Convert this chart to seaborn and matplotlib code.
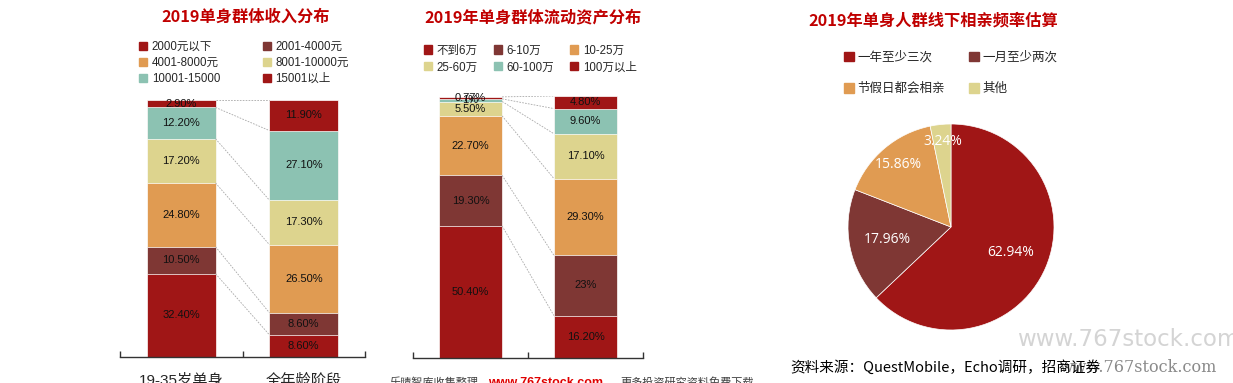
import numpy as np
import pandas as pd
import matplotlib
matplotlib.use('Agg')
import matplotlib.pyplot as plt
import seaborn as sns
from matplotlib.patches import Patch
from matplotlib.ticker import FixedLocator

sns.set_theme(style='white')
plt.rcParams['font.family'] = ['Liberation Sans', 'Noto Sans CJK SC', 'DejaVu Sans']

# income distribution
income_groups = ['19-35岁单身', '全年龄阶段']
income_bins = ['2000元以下', '2001-4000元', '4001-8000元', '8001-10000元', '10001-15000', '15001以上']
income_single = [32.4, 10.5, 24.8, 17.2, 12.2, 2.9]
income_all = [8.6, 8.6, 26.5, 17.3, 27.1, 11.9]

# liquid assets distribution
asset_groups = ['19-35岁单身', '全年龄阶段']
asset_bins = ['不到6万', '6-10万', '10-25万', '25-60万', '60-100万', '100万以上']
asset_single = [50.4, 19.3, 22.7, 5.5, 1, 0.77]
asset_all = [16.2, 23, 29.3, 17.1, 9.6, 4.8]

# blind date frequency
date_labels = ['一年至少三次', '一月至少两次', '节假日都会相亲', '其他']
date_share = [62.94, 17.96, 15.86, 3.24]

seg_colors = ['#A01616', '#7F3734', '#E09B52', '#DDD48E', '#8CC2B2', '#A01616']
pie_colors = ['#A01616', '#7F3734', '#E09B52', '#DDD48E']
title_color = '#C00000'
cjk = ['Noto Sans CJK SC', 'DejaVu Sans']

W, H = 1233, 383
fig = plt.figure(figsize=(W / 100, H / 100), dpi=100)


def fx(px):
    return px / W


def fy(py):
    return 1 - py / H


def pct(v):
    if v == int(v):
        return '%d%%' % v
    return '%.2f%%' % v


def stacked(ax, groups, a, b, width):
    df = pd.DataFrame({'group': np.repeat(groups, len(a)),
                       'seg': list(range(len(a))) * 2,
                       'val': a + b})
    df['cum'] = df.groupby('group')['val'].cumsum()
    # draw the cumulative totals from the top down so each layer covers the next
    for k in reversed(range(len(a))):
        sub = df[df.seg == k]
        sns.barplot(data=sub, x='group', y='cum', order=groups, color=seg_colors[k],
                    width=width, saturation=1, edgecolor='white', linewidth=0.5, ax=ax)
    for i, g in enumerate(groups):
        sub = df[df.group == g]
        for v, c in zip(sub['val'], sub['cum']):
            ax.text(i, c - v / 2, pct(v), ha='center', va='center', fontsize=8, color='#111111')
    cum_a = np.cumsum(a)
    cum_b = np.cumsum(b)
    for y1, y2 in zip(cum_a, cum_b):
        ax.plot([width / 2, 1 - width / 2], [y1, y2], ls=(0, (2, 1.5)), color='#A8A8A8', lw=0.6)
    ax.set_xlim(-0.5, 1.5)
    ax.set_ylim(0, 100)
    ax.set_xlabel('')
    ax.set_ylabel('')
    ax.set_yticks([])
    for s in ['top', 'left', 'right']:
        ax.spines[s].set_visible(False)
    ax.spines['bottom'].set_color('#333333')
    ax.spines['bottom'].set_linewidth(1)
    ax.xaxis.set_minor_locator(FixedLocator([-0.5, 0.5, 1.5]))
    ax.tick_params(axis='x', which='minor', direction='in', length=4, width=1, color='#333333', bottom=True)
    ax.tick_params(axis='x', which='major', length=0, pad=12, labelsize=11)


# ---- left: income
ax1 = fig.add_axes([fx(120), fy(357), fx(245), (357 - 100) / H])
stacked(ax1, income_groups, income_single, income_all, 0.56)
fig.text(fx(246), fy(17), '2019单身群体收入分布', ha='center', va='center', fontsize=11.7,
         fontweight='bold', color=title_color, family=cjk)
fig.legend(handles=[Patch(color=seg_colors[k], label=income_bins[k]) for k in [0, 2, 4, 1, 3, 5]],
           ncol=2, loc='upper left', bbox_to_anchor=(fx(139), fy(41)), frameon=False,
           fontsize=8.3, handlelength=0.7, handleheight=0.7, handletextpad=0.4,
           columnspacing=3.7, labelspacing=0.35, borderpad=0, borderaxespad=0)

# ---- middle: liquid assets
ax2 = fig.add_axes([fx(413), fy(358), fx(230), (358 - 96) / H])
stacked(ax2, asset_groups, asset_single, asset_all, 0.55)
ax2.set_xticklabels([])
fig.text(fx(533), fy(17), '2019年单身群体流动资产分布', ha='center', va='center', fontsize=11.7,
         fontweight='bold', color=title_color, family=cjk)
fig.legend(handles=[Patch(color=seg_colors[k], label=asset_bins[k]) for k in [0, 3, 1, 4, 2, 5]],
           ncol=3, loc='upper left', bbox_to_anchor=(fx(424), fy(44.5)), frameon=False,
           fontsize=8.3, handlelength=0.7, handleheight=0.7, handletextpad=0.4,
           columnspacing=1.4, labelspacing=0.43, borderpad=0, borderaxespad=0)

# ---- right: pie
ax3 = fig.add_axes([fx(848), fy(330), fx(206), 206 / H])
wedges, texts, pcts = ax3.pie(date_share, colors=pie_colors, startangle=90, counterclock=False,
                              autopct='%.2f%%', pctdistance=0.63,
                              wedgeprops=dict(edgecolor='white', linewidth=0.5),
                              textprops=dict(color='white', fontsize=10, family='Open Sans'))
# small slices have their labels pushed towards the rim
label_r = [0.63, 0.63, 0.79, 0.83]
for w, t, r in zip(wedges, pcts, label_r):
    ang = np.deg2rad((w.theta1 + w.theta2) / 2)
    t.set_position((r * np.cos(ang), r * np.sin(ang)))
ax3.set_xlim(-1, 1)
ax3.set_ylim(-1, 1)
ax3.set_aspect('equal')
fig.text(fx(933), fy(20), '2019年单身人群线下相亲频率估算', ha='center', va='center', fontsize=11.7,
         fontweight='bold', color=title_color, family=cjk)
fig.legend(handles=[Patch(color=pie_colors[k], label=date_labels[k]) for k in [0, 2, 1, 3]],
           ncol=2, loc='upper left', bbox_to_anchor=(fx(844), fy(51)), frameon=False,
           prop=dict(family=cjk, size=9), handlelength=0.8, handleheight=0.8, handletextpad=0.3,
           columnspacing=1.9, labelspacing=1.45, borderpad=0, borderaxespad=0)

# ---- footer texts and watermarks
fig.text(fx(1017), fy(340), 'www.767stock.com', ha='left', va='center', fontsize=16.5,
         color='#D4D4D4', family='DejaVu Sans')
fig.text(fx(1217), fy(367), 'www.767stock.com', ha='right', va='center', fontsize=11.5,
         color='#8A8A8A', family='DejaVu Serif')
fig.text(fx(790), fy(367), '资料来源：QuestMobile，Echo调研，招商证券', ha='left', va='center',
         fontsize=10.5, color='black', family=cjk)
fig.text(fx(390), fy(377), '乐晴智库收集整理', ha='left', va='top', fontsize=8, color='#404040', family=cjk)
fig.text(fx(488), fy(377), 'www.767stock.com', ha='left', va='top', fontsize=9, color='#E00000',
         fontweight='bold', family='Liberation Sans')
fig.text(fx(620), fy(377), '更多投资研究资料免费下载', ha='left', va='top', fontsize=8, color='#404040', family=cjk)

fig.savefig('out.png', dpi=100)
